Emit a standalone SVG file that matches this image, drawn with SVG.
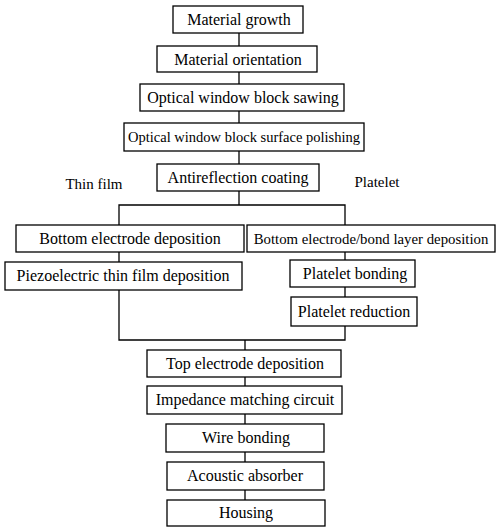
<svg xmlns="http://www.w3.org/2000/svg" width="497" height="530" viewBox="0 0 497 530">
<style>
rect{fill:#fff;stroke:#000;stroke-width:1.3}
text{font-family:'Liberation Serif','Times New Roman',serif;font-size:16px;fill:#000;text-anchor:middle}
#connectors path{fill:none;stroke:#000;stroke-width:1.3}
</style>
<rect x="0" y="0" width="497" height="530" style="stroke:none"/>
<g id="connectors">
<path d="M239 33V46M239 72V84M239 111V123M239 151V164"/>
<path d="M239 191V205M119 225V205H345V225"/>
<path d="M119 252V262M345 252V260M345 287V297"/>
<path d="M119 290V340H345V326M245 340V350"/>
<path d="M245 377V386M245 414V424M245 452V462M245 490V500"/>
</g>
<g id="n1"><rect x="173" y="6" width="130" height="27"/><text x="239" y="24.5">Material  growth</text></g>
<g id="n2"><rect x="157" y="46" width="160" height="26"/><text x="238" y="64.5">Material  orientation</text></g>
<g id="n3"><rect x="140" y="84" width="204" height="27"/><text x="243" y="102.5">Optical window block sawing</text></g>
<g id="n4"><rect x="124" y="123" width="240" height="28"/><text x="244" y="142" style="font-size:14.5px">Optical window block surface polishing</text></g>
<g id="n5"><rect x="157" y="164" width="162" height="27"/><text x="238" y="182.5">Antireflection coating</text></g>
<g id="lbl-thin"><text x="94" y="189" style="font-size:15px">Thin film</text></g>
<g id="lbl-plate"><text x="377" y="187" style="font-size:15px">Platelet</text></g>
<g id="n6"><rect x="16" y="225" width="228" height="27"/><text x="130" y="243.5">Bottom electrode deposition</text></g>
<g id="n7"><rect x="247" y="225" width="248" height="27"/><text x="371" y="243.5" style="font-size:14.8px">Bottom electrode/bond layer deposition</text></g>
<g id="n8"><rect x="5" y="262" width="237" height="28"/><text x="123" y="281">Piezoelectric thin film deposition</text></g>
<g id="n9"><rect x="290" y="260" width="125" height="27"/><text x="355" y="278.5">Platelet bonding</text></g>
<g id="n10"><rect x="291" y="297" width="126" height="29"/><text x="354" y="316.5">Platelet reduction</text></g>
<g id="n11"><rect x="147" y="350" width="194" height="27"/><text x="245" y="368.5">Top electrode deposition</text></g>
<g id="n12"><rect x="147" y="386" width="195" height="28"/><text x="245" y="405">Impedance matching circuit</text></g>
<g id="n13"><rect x="166" y="424" width="158" height="28"/><text x="246" y="443">Wire bonding</text></g>
<g id="n14"><rect x="167" y="462" width="157" height="28"/><text x="245" y="481">Acoustic absorber</text></g>
<g id="n15"><rect x="167" y="500" width="158" height="26"/><text x="246" y="518">Housing</text></g>
</svg>
